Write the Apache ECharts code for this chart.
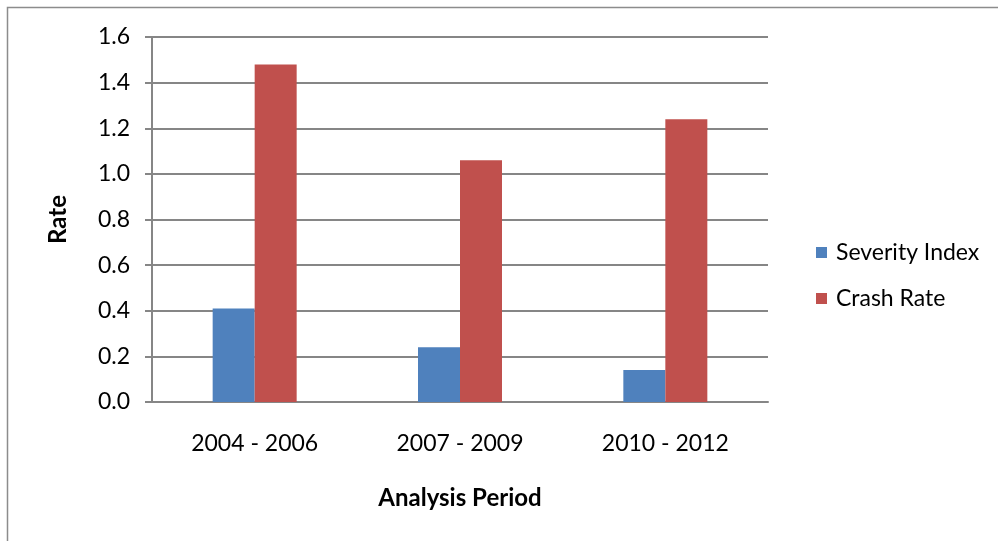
<!DOCTYPE html>
<html>
<head>
<meta charset="utf-8">
<script src="https://cdn.jsdelivr.net/npm/echarts@6/dist/echarts.min.js"></script>
<style>
  html, body { margin: 0; padding: 0; background: #fff; }
  #chart { width: 998px; height: 541px; }
</style>
</head>
<body>
<div id="chart"></div>
<script>
// categories and values
const periods = ['2004 - 2006', '2007 - 2009', '2010 - 2012']
const severityIndex = [0.41, 0.24, 0.14]
const crashRate = [1.48, 1.06, 1.24]

const font = 'Lato, "Open Sans", sans-serif'
const chart = echarts.init(document.getElementById('chart'), null, { renderer: 'canvas' })

const option = {
  animation: false,
  backgroundColor: '#fff',
  textStyle: { fontFamily: font },
  // outer chart-area border
  graphic: [{
    type: 'rect',
    shape: { x: 7.5, y: 7.5, width: 1000, height: 600 },
    style: { fill: 'none', stroke: '#8c8c8c', lineWidth: 1.5 },
    silent: true
  }],
  grid: { left: 152, right: 230, top: 37, bottom: 139, containLabel: false },
  legend: {
    orient: 'vertical',
    left: 811,
    top: 236,
    itemWidth: 11,
    itemHeight: 11,
    itemGap: 23,
    icon: 'rect',
    textStyle: { fontSize: 23, color: '#000', fontFamily: font, padding: [0, 0, 0, 4] },
    data: ['Severity Index', 'Crash Rate']
  },
  xAxis: {
    type: 'category',
    data: periods,
    name: 'Analysis Period',
    nameLocation: 'middle',
    nameGap: 84,
    nameTextStyle: { fontSize: 24, fontWeight: 'bold', color: '#000', fontFamily: font },
    axisLine: { lineStyle: { color: '#868686', width: 2 } },
    axisTick: { show: false },
    axisLabel: { fontSize: 23, color: '#000', margin: 30, fontFamily: font }
  },
  yAxis: {
    type: 'value',
    min: 0,
    max: 1.6,
    interval: 0.2,
    name: 'Rate',
    nameLocation: 'middle',
    nameGap: 82,
    nameRotate: 90,
    nameTextStyle: { fontSize: 24, fontWeight: 'bold', color: '#000', fontFamily: font },
    axisLine: { show: true, lineStyle: { color: '#868686', width: 2 } },
    axisTick: { show: true, length: 7, inside: false, lineStyle: { color: '#868686', width: 2 } },
    axisLabel: {
      fontSize: 23, color: '#000', margin: 22, fontFamily: font,
      formatter: v => v.toFixed(1)
    },
    splitLine: { show: true, lineStyle: { color: '#868686', width: 2 } }
  },
  series: [
    {
      name: 'Severity Index',
      type: 'bar',
      data: severityIndex,
      barWidth: 42,
      barGap: '0%',
      itemStyle: { color: '#4f81bd' }
    },
    {
      name: 'Crash Rate',
      type: 'bar',
      data: crashRate,
      barWidth: 42,
      itemStyle: { color: '#c0504d' }
    }
  ]
}

chart.setOption(option)
</script>
</body>
</html>
